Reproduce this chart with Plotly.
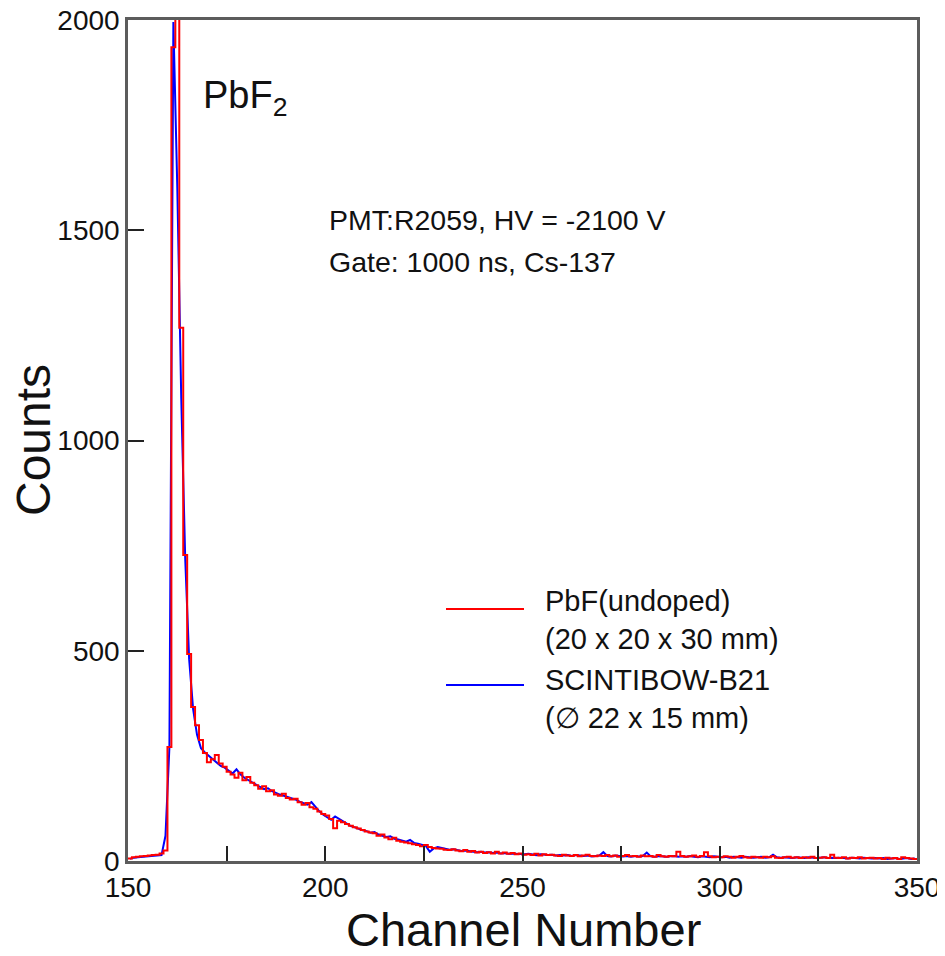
import plotly.graph_objects as go

# ---- data ----
channels = list(range(150, 350))  # bin left edges / channel numbers

red_counts = [
    6, 9, 10, 11, 12, 13, 14, 15, 18, 25,
    271, 1935, 2600, 1268, 728, 492, 366, 323, 288, 257,
    235, 242, 252, 232, 224, 212, 206, 198, 210, 192,
    200, 186, 180, 172, 178, 166, 168, 158, 155, 160,
    150, 146, 148, 140, 134, 138, 128, 124, 118, 112,
    108, 100, 78, 96, 92, 88, 84, 80, 77, 74,
    70, 68, 66, 60, 63, 56, 52, 55, 48, 46,
    44, 42, 40, 38, 35, 38, 33, 31, 30, 29,
    27, 26, 28, 25, 23, 26, 22, 24, 20, 22,
    19, 21, 18, 22, 18, 20, 17, 19, 16, 18,
    15, 16, 14, 17, 13, 16, 14, 15, 13, 12,
    15, 13, 12, 14, 11, 13, 15, 12, 11, 13,
    12, 14, 11, 13, 10, 12, 14, 11, 12, 10,
    13, 11, 12, 10, 14, 11, 10, 12, 11, 22,
    12, 10, 11, 13, 10, 12, 21, 11, 9, 10,
    9, 11, 10, 8, 10, 12, 9, 8, 10, 9,
    8, 10, 9, 11, 8, 7, 9, 10, 8, 9,
    7, 9, 8, 10, 7, 8, 9, 7, 15, 8,
    7, 9, 6, 8, 7, 9, 6, 7, 8, 6,
    7, 5, 8, 6, 7, 5, 9, 7, 6, 5,
]

blue_counts = [
    5, 8, 9, 10, 11, 11, 12, 13, 14, 60,
    271, 1995, 1600, 1100, 720, 480, 362, 300, 268, 258,
    250, 240, 234, 226, 222, 214, 208, 218, 206, 198,
    192, 186, 182, 176, 171, 173, 166, 161, 158, 155,
    152, 148, 146, 141, 137, 134, 140, 128, 118, 110,
    103, 98, 106, 100, 93, 87, 83, 80, 76, 73,
    71, 67, 69, 63, 60, 57, 59, 53, 51, 48,
    46, 50, 43, 41, 38, 36, 22, 30, 33, 31,
    29, 27, 28, 26, 24, 25, 23, 22, 21, 22,
    20, 21, 19, 20, 18, 19, 17, 18, 17, 16,
    16, 17, 15, 14, 16, 15, 14, 15, 13, 14,
    13, 14, 12, 14, 13, 12, 13, 11, 12, 13,
    21, 12, 11, 13, 12, 11, 12, 10, 12, 11,
    12, 20, 11, 10, 12, 11, 10, 11, 12, 10,
    11, 10, 12, 10, 9, 11, 10, 9, 11, 10,
    9, 10, 8, 10, 9, 8, 10, 9, 8, 9,
    10, 8, 9, 15, 9, 8, 9, 8, 7, 9,
    8, 7, 9, 8, 7, 8, 9, 7, 8, 7,
    8, 7, 6, 8, 7, 6, 8, 7, 6, 7,
    6, 7, 5, 6, 7, 5, 6, 7, 5, 6,
]

red_name = "PbF(undoped)<br>(20 x 20 x 30 mm)"
blue_name = "SCINTIBOW-B21<br>(\u2205 22 x 15 mm)"
x_ticks = [150, 200, 250, 300, 350]
y_ticks = [0, 500, 1000, 1500, 2000]
x_title = "Channel Number"
y_title = "Counts"

FONT = "Liberation Sans, Arial, Helvetica, sans-serif"

fig = go.Figure()

# blue: smooth line at bin centres
fig.add_trace(go.Scatter(
    x=[c + 0.5 for c in channels], y=blue_counts, mode="lines",
    line=dict(color="#0000ff", width=2), name=blue_name, showlegend=False))

# red: step histogram
fig.add_trace(go.Scatter(
    x=channels + [channels[-1] + 1], y=red_counts + [red_counts[-1]], mode="lines",
    line=dict(color="#ff0000", width=2, shape="hv"), name=red_name, showlegend=False))

# page has an 8px body margin; target plot frame at x 128..917, y 20..861 in the window
OFF = 8
W, H = 937, 948
L, T = 128 - OFF, 20 - OFF
pw, ph = 917 - 128, 861 - 20
R = W - L - pw
B = H - T - ph


def px(xp):
    return (xp - 128) / pw


def py(yp):
    return (861 - yp) / ph


# legend samples and text
fig.add_shape(type="line", xref="paper", yref="paper", x0=px(446), x1=px(524),
              y0=py(609), y1=py(609), line=dict(color="#ff0000", width=2))
fig.add_shape(type="line", xref="paper", yref="paper", x0=px(446), x1=px(524),
              y0=py(685), y1=py(685), line=dict(color="#0000ff", width=2))
fig.add_annotation(xref="paper", yref="paper", x=px(543), y=py(620), text=red_name,
                   showarrow=False, xanchor="left", yanchor="middle", align="left",
                   font=dict(family=FONT, size=29, color="#111"))
fig.add_annotation(xref="paper", yref="paper", x=px(543), y=py(699), text=blue_name,
                   showarrow=False, xanchor="left", yanchor="middle", align="left",
                   font=dict(family=FONT, size=29, color="#111"))

# text annotations
fig.add_annotation(xref="paper", yref="paper", x=px(201), y=py(98), text="PbF<sub>2</sub>",
                   showarrow=False, xanchor="left", yanchor="middle",
                   font=dict(family=FONT, size=38, color="#111"))
fig.add_annotation(xref="paper", yref="paper", x=px(327), y=py(220),
                   text="PMT:R2059, HV = -2100 V",
                   showarrow=False, xanchor="left", yanchor="middle",
                   font=dict(family=FONT, size=28.5, color="#111"))
fig.add_annotation(xref="paper", yref="paper", x=px(327), y=py(262),
                   text="Gate: 1000 ns, Cs-137",
                   showarrow=False, xanchor="left", yanchor="middle",
                   font=dict(family=FONT, size=28.5, color="#111"))

# axis titles
fig.add_annotation(xref="paper", yref="paper", x=px(523), y=py(930), text=x_title,
                   showarrow=False, xanchor="center", yanchor="middle",
                   font=dict(family=FONT, size=47, color="#111"))
fig.add_annotation(xref="paper", yref="paper", x=px(33), y=py(440), text=y_title,
                   showarrow=False, xanchor="center", yanchor="middle", textangle=-90,
                   font=dict(family=FONT, size=48, color="#111"))

axis_common = dict(
    showline=True, linecolor="#5c5c5c", linewidth=2.5, mirror=True,
    showgrid=False, zeroline=False, ticks="inside", tickcolor="#222",
    tickwidth=1.5, tickfont=dict(family=FONT, size=28, color="#111"),
    ticklabeloverflow="allow",
)

fig.update_xaxes(
    range=[150, 350], tickvals=x_ticks, ticklen=15,
    minor=dict(dtick=25, tick0=150, ticks="inside", ticklen=15, tickcolor="#222", tickwidth=1.5),
    **axis_common)
fig.update_yaxes(
    range=[0, 2000], tickvals=y_ticks, ticklen=16,
    **axis_common)

fig.update_layout(
    width=W, height=H, margin=dict(l=L, r=R, t=T, b=B, autoexpand=False),
    paper_bgcolor="white", plot_bgcolor="white", showlegend=False,
    font=dict(family=FONT),
)

fig.write_html("out.html")
